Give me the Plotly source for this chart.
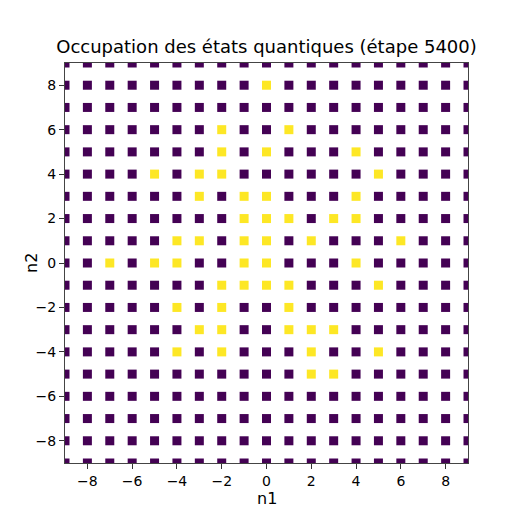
import plotly.graph_objects as go

# Quantum numbers on each axis (grid of states)
n1_values = list(range(-9, 10))
n2_values = list(range(-9, 10))

# Occupied states (yellow), as (n1, n2)
occupied_n1 = [0,
               -2, 1,
               -2, 0, 4,
               -5, -3, -2, 5,
               -3, -1, 0, 4,
               -1, 0, 1, 3, 4,
               -4, -3, -1, 0, 2, 6,
               -7, -5, -4, -1, 0, 4,
               -2, -1, 0, 1, 5,
               -4, -2, 1,
               -3, -2, 1, 2, 3,
               -4, -2, 2, 5,
               2, 3]
occupied_n2 = [8,
               6, 6,
               5, 5, 5,
               4, 4, 4, 4,
               3, 3, 3, 3,
               2, 2, 2, 2, 2,
               1, 1, 1, 1, 1, 1,
               0, 0, 0, 0, 0, 0,
               -1, -1, -1, -1, -1,
               -2, -2, -2,
               -3, -3, -3, -3, -3,
               -4, -4, -4, -4,
               -5, -5]

tick_values = [-8, -6, -4, -2, 0, 2, 4, 6, 8]
tick_labels = ["\u22128", "\u22126", "\u22124", "\u22122", "0", "2", "4", "6", "8"]

occupied_set = set(zip(occupied_n1, occupied_n2))
xs, ys, occ = [], [], []
for b in n2_values:
    for a in n1_values:
        xs.append(a)
        ys.append(b)
        occ.append(1 if (a, b) in occupied_set else 0)

fig = go.Figure(go.Scatter(
    x=xs, y=ys, mode="markers",
    marker=dict(symbol="square", size=9, color=occ, colorscale="Viridis",
                cmin=0, cmax=1, showscale=False, line=dict(width=0)),
    cliponaxis=True, hoverinfo="x+y",
))

axis_common = dict(
    range=[-9, 9], showgrid=False, zeroline=False,
    showline=True, linecolor="#444", linewidth=1, mirror=True,
    ticks="outside", ticklen=5, tickwidth=1, tickcolor="#333",
    tickvals=tick_values, ticktext=tick_labels,
    tickfont=dict(family="DejaVu Sans", size=14, color="#000"),
    automargin=False,
)

label_font = dict(family="DejaVu Sans", size=16, color="#000")

fig.update_layout(
    width=520, height=520,
    margin=dict(l=57, r=60, t=55, b=65),
    paper_bgcolor="white", plot_bgcolor="white",
    showlegend=False,
    title=dict(text="Occupation des états quantiques (étape 5400)",
               x=0.5, xref="paper", y=1 - 39 / 520, yref="container",
               xanchor="center", yanchor="middle",
               font=dict(family="DejaVu Sans", size=18, color="#000")),
    xaxis=axis_common,
    yaxis=axis_common,
    annotations=[
        dict(text="n1", xref="paper", yref="paper", x=0.5, y=0,
             xanchor="center", yanchor="middle", yshift=-35,
             showarrow=False, font=label_font),
        dict(text="n2", xref="paper", yref="paper", x=0, y=0.5,
             xanchor="center", yanchor="middle", xshift=-34, textangle=-90,
             showarrow=False, font=label_font),
    ],
)

fig.write_html("out.html")
